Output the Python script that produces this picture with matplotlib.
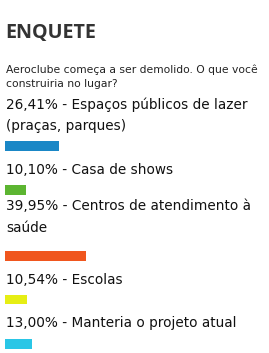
import matplotlib
matplotlib.use("Agg")
import matplotlib.pyplot as plt
import matplotlib.transforms as mtransforms

title = "ENQUETE"
question = ["Aeroclube começa a ser demolido. O que você", "construiria no lugar?"]
percent_labels = ["26,41%", "10,10%", "39,95%", "10,54%", "13,00%"]
values = [26.41, 10.10, 39.95, 10.54, 13.00]
option_lines = [
    ["Espaços públicos de lazer", "(praças, parques)"],
    ["Casa de shows"],
    ["Centros de atendimento à", "saúde"],
    ["Escolas"],
    ["Manteria o projeto atual"],
]
colors = ["#1a87c6", "#5cb531", "#f0561e", "#e6ee14", "#2ac6e6"]

W, H = 269, 353
fig = plt.figure(figsize=(W / 100, H / 100), dpi=100)
fig.patch.set_facecolor("white")

px_per_pct = 2.04
left_px = 5
ax = fig.add_axes([0, 0, 1, 1])
ax.set_xlim(-left_px / px_per_pct, (W - left_px) / px_per_pct)
ax.set_ylim(H, 0)
ax.axis("off")

pix = mtransforms.blended_transform_factory(fig.transFigure, ax.transData)

def put(xpx, ypx, s, **kw):
    ax.text(xpx / W, ypx, s, transform=pix, **kw)

put(5, 38, title, fontsize=14.2, fontweight="bold", family="Open Sans",
    color="#333333", va="baseline")
put(6, 72.7, question[0], fontsize=7.78, color="#222222", va="baseline")
put(6, 87, question[1], fontsize=7.78, color="#222222", va="baseline")

text_baselines = [[108.5, 130], [174], [210.5, 231.5], [283.5], [327]]
bar_centers = [146, 190, 256, 299.5, 344]
bar_h = 9.5
for i, v in enumerate(values):
    lines = option_lines[i]
    for j, line in enumerate(lines):
        s = f"{percent_labels[i]} - {line}" if j == 0 else line
        put(6, text_baselines[i][j], s, fontsize=9.85, color="#111111", va="baseline")
    ax.barh(bar_centers[i], v, height=bar_h, left=0, color=colors[i])

fig.savefig("out.png", dpi=100)
